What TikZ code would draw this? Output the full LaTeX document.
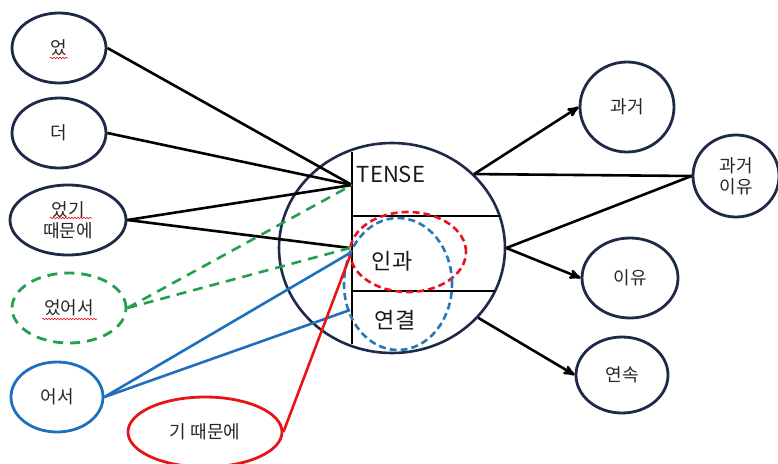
\documentclass[tikz,border=0pt]{standalone}
\usepackage{fontspec}
\setmainfont{Noto Sans CJK KR}
\usepackage{tikz}
\usetikzlibrary{arrows,shapes.geometric,decorations.pathmorphing}

\definecolor{navy}{RGB}{31,42,72}
\definecolor{lgreen}{RGB}{34,160,80}
\definecolor{lblue}{RGB}{30,112,190}
\definecolor{lred}{RGB}{232,20,24}
\definecolor{dblue}{RGB}{40,120,180}

\begin{document}
\begin{tikzpicture}[x=1pt,y=-1pt,->,>=stealth',line width=2.6pt,
  word/.style={ellipse,draw=navy,line width=2.8pt,inner sep=0pt,align=center,
    text=black!85,font=\fontsize{18}{21}\selectfont},
  part/.style={text=black!90,font=\fontsize{22}{26}\selectfont},
  gline/.style={-,lgreen,dashed,dash pattern=on 10pt off 7pt},
  bline/.style={-,lblue},
  rline/.style={-,lred},
  wavy/.style={-,lred,line width=0.6pt,decorate,
    decoration={snake,amplitude=0.8pt,segment length=3pt}}]

\useasboundingbox (0,0) rectangle (778,463);

% left side
\node[word,minimum width=94pt,minimum height=70pt] (L1) at (59,48) {었};
\node[word,minimum width=94pt,minimum height=70pt] (L2) at (59,133) {더};
\node[word,minimum width=116pt,minimum height=70pt] (L3) at (68,220) {었기\\때문에};
\node[word,draw=lgreen,dashed,dash pattern=on 10pt off 7pt,
  minimum width=114pt,minimum height=70pt] (L4) at (69,308) {었어서};
\node[word,draw=lblue,minimum width=92pt,minimum height=70pt] (L5) at (57,397) {어서};
\node[word,draw=lred,minimum width=154pt,minimum height=70pt] (L6) at (205,432) {기 때문에};

% right side
\node[word,minimum width=94pt,minimum height=90pt] (R1) at (627,107) {과거};
\node[word,minimum width=86pt,minimum height=82pt] (R2) at (736,176) {과거\\이유};
\node[word,minimum width=96pt,minimum height=80pt] (R3) at (630,278) {이유};
\node[word,minimum width=92pt,minimum height=76pt] (R4) at (622,375) {연속};

% centre
\node[ellipse,draw=navy,line width=2.6pt,minimum width=226pt,minimum height=210pt] (C) at (392,248) {};
\draw[-,line width=2pt] (352,152) -- (352,344);
\draw[-,line width=2pt] (352,216) -- (500,216);
\draw[-,line width=2pt] (352,291) -- (495,291);

\node[part] (T) at (391,174) {TENSE};
\node[part] (K1) at (392,261) {인과};
\node[part] (K2) at (395,320) {연결};

\node[ellipse,draw=lred,line width=2.6pt,dashed,dash pattern=on 7pt off 4pt,
  minimum width=116pt,minimum height=80pt] (RD) at (408,252) {};
\node[ellipse,draw=dblue,line width=2.6pt,dashed,dash pattern=on 7pt off 4pt,
  minimum width=108pt,minimum height=132pt] (BD) at (398,284) {};

\coordinate (tp) at (352,185);
\coordinate (cp) at (350,248);
\coordinate (bp) at (350,253);
\coordinate (rp) at (350,256);
\coordinate (lp) at (350,310);

\path[-]
	(L1.east) edge (tp)
	(L2.east) edge (tp)
	(L3.east) edge (tp)
	(L3.east) edge (cp);
\path[gline]
	(L4.east) edge (tp)
	(L4.east) edge (cp);
\path[bline]
	(L5.east) edge (bp)
	(L5.east) edge (lp);
\path[rline]
	(L6.east) edge (rp);

\path
	(C.42) edge (R1.west)
	(C.42) edge[-] (R2.west)
	(C.east) edge[-] (R2.west)
	(C.east) edge (R3.west)
	(C.-39) edge (R4.west);

% spelling marks
\draw[wavy] ([shift={(-9,10)}]L1.center) -- ++(18,0);
\draw[wavy] ([shift={(-18,-2)}]L3.center) -- ++(42,0);
\draw[wavy] ([shift={(-27,11)}]L4.center) -- ++(55,0);

\end{tikzpicture}
\end{document}
